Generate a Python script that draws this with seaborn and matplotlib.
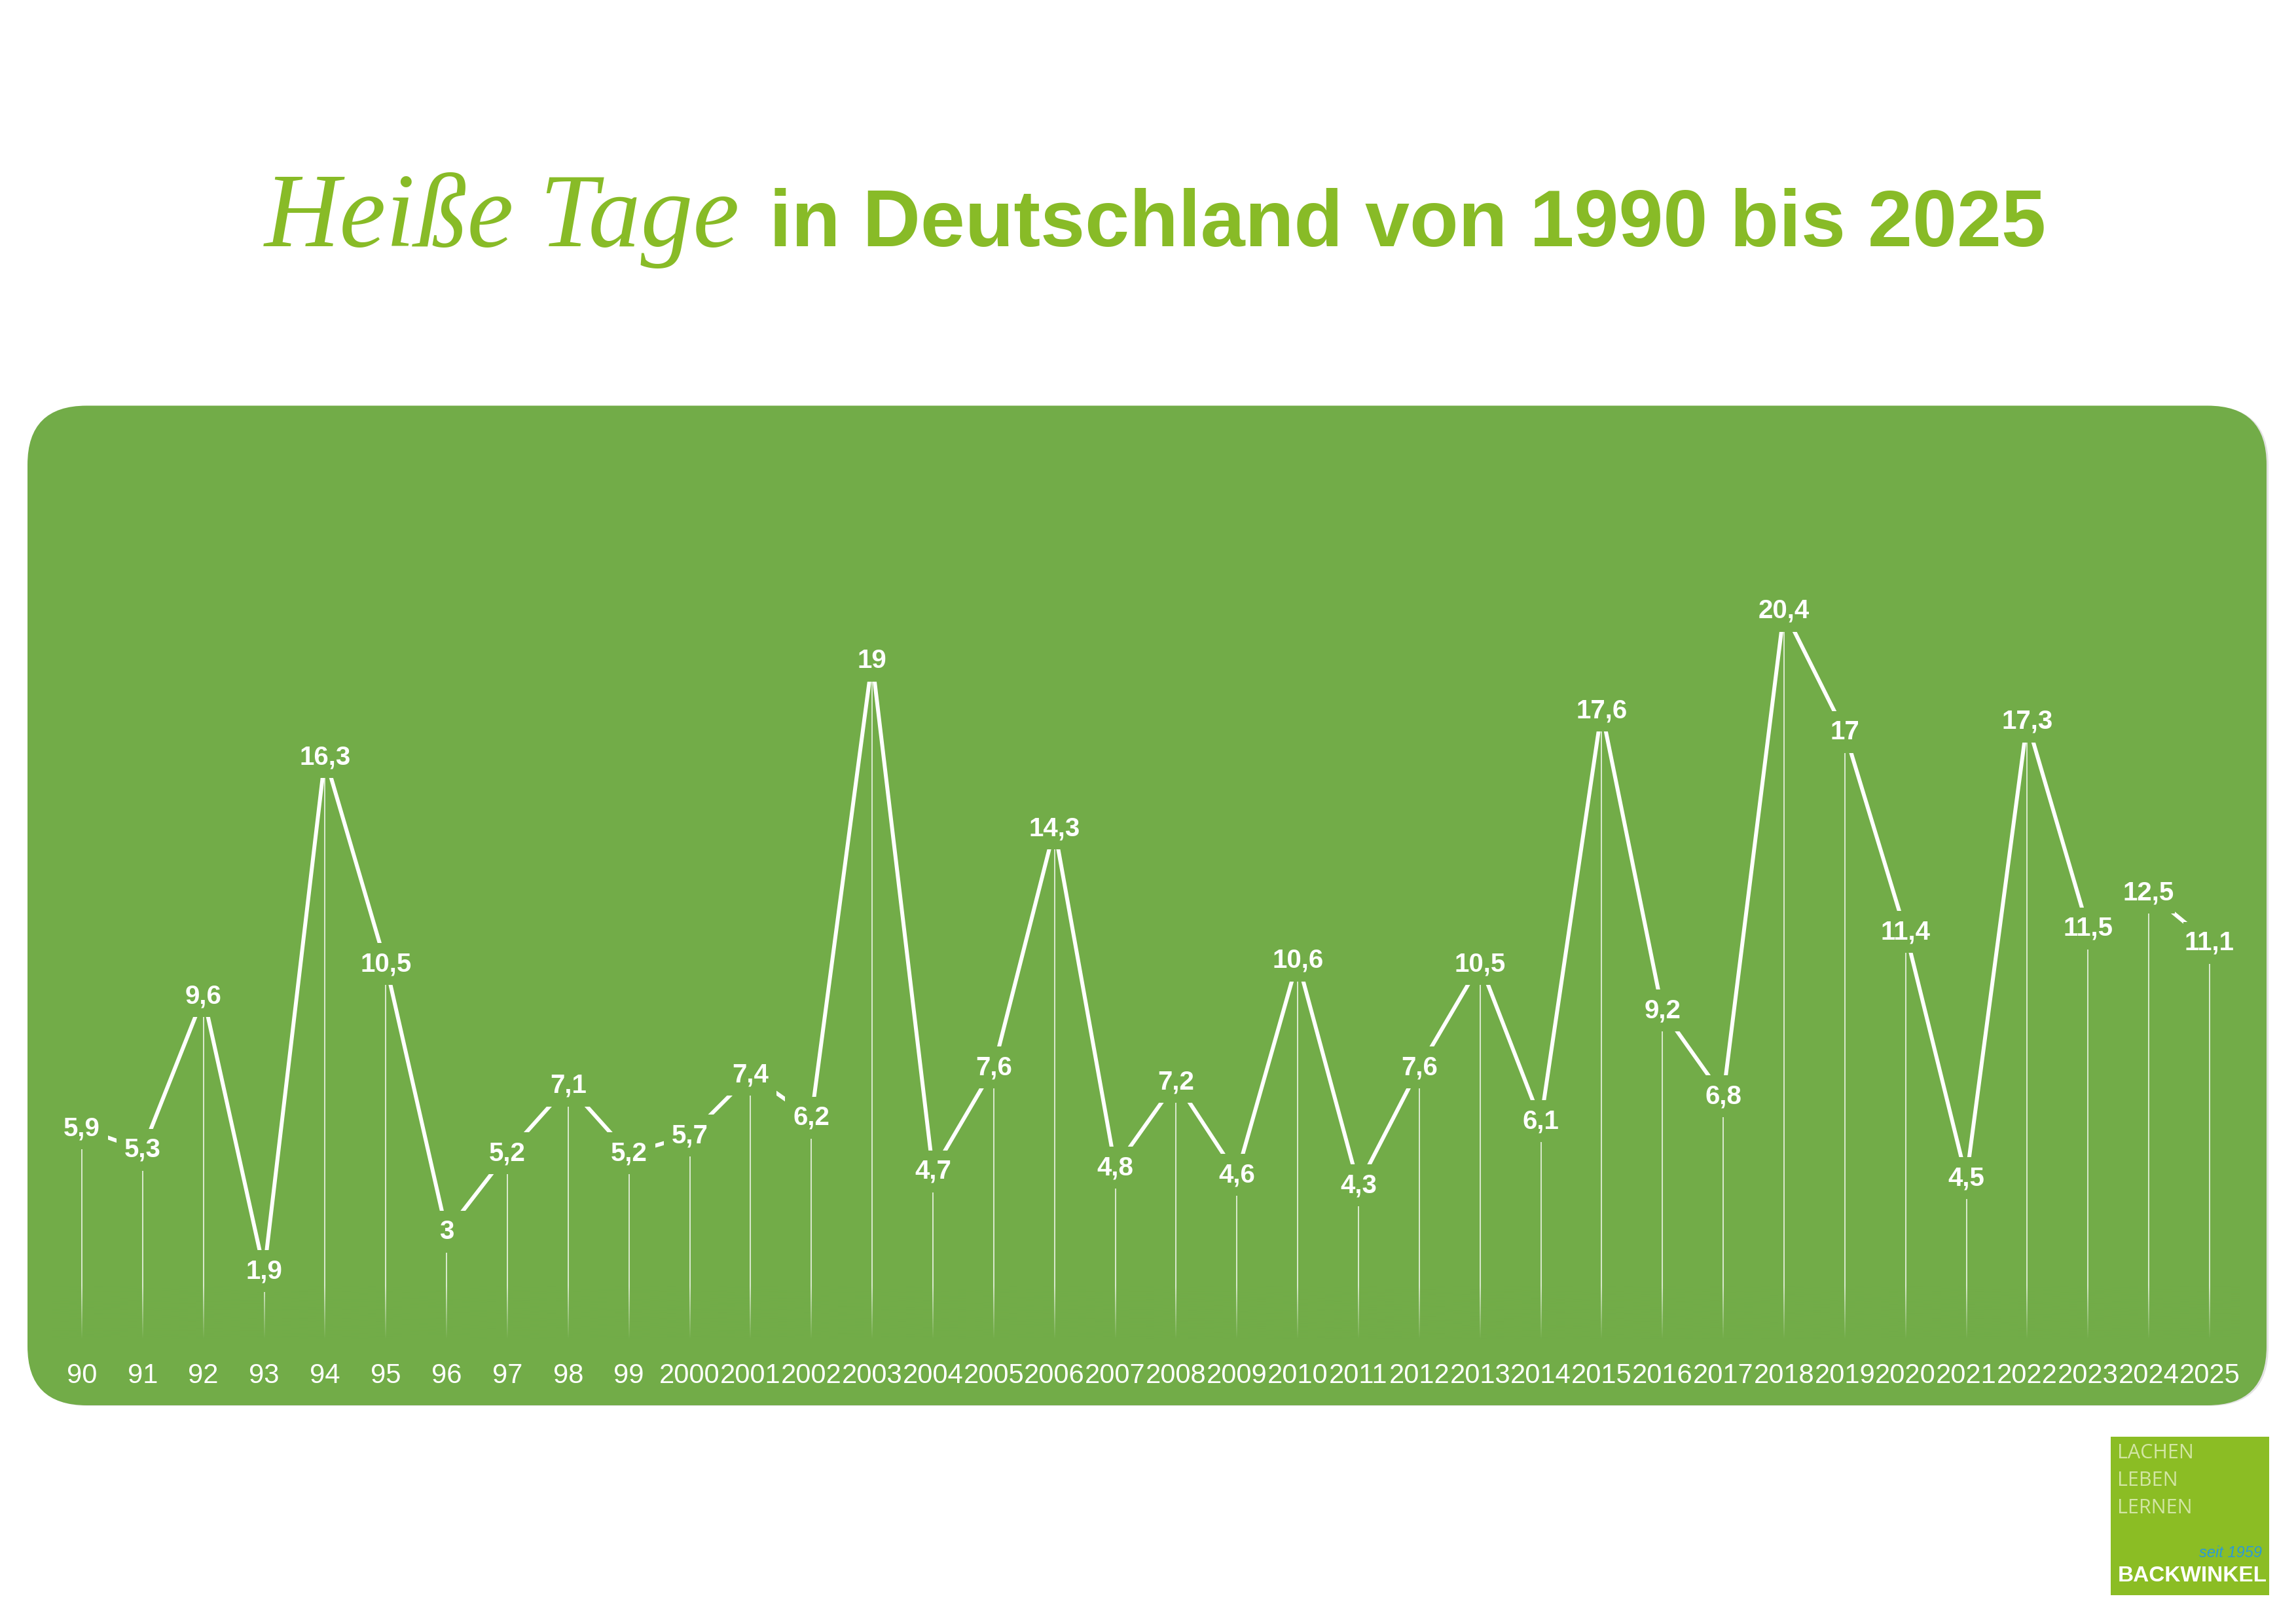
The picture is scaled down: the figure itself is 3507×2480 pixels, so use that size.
import numpy as np
import pandas as pd
import matplotlib
matplotlib.use('Agg')
import matplotlib.pyplot as plt
import matplotlib.path as mpath
from matplotlib.colors import to_rgb
from matplotlib.patches import FancyBboxPatch, Rectangle
import seaborn as sns

# Heiße Tage (Tmax >= 30 °C), Deutschland, Mittel je Jahr
years = list(range(1990, 2026))
hot_days = [5.9, 5.3, 9.6, 1.9, 16.3, 10.5, 3.0, 5.2, 7.1, 5.2,
            5.7, 7.4, 6.2, 19.0, 4.7, 7.6, 14.3, 4.8, 7.2, 4.6,
            10.6, 4.3, 7.6, 10.5, 6.1, 17.6, 9.2, 6.8, 20.4, 17.0,
            11.4, 4.5, 17.3, 11.5, 12.5, 11.1]
year_labels = ['90', '91', '92', '93', '94', '95', '96', '97', '98', '99',
               '2000', '2001', '2002', '2003', '2004', '2005', '2006', '2007',
               '2008', '2009', '2010', '2011', '2012', '2013', '2014', '2015',
               '2016', '2017', '2018', '2019', '2020', '2021', '2022', '2023',
               '2024', '2025']
# die Linie ist zwischen 2023 und 2024 unterbrochen
line_part = [1] * 34 + [2] * 2

BOX = '#72AC48'
TITLE_GREEN = '#88BB27'
LOGO_GREEN = '#8BBD24'

df = pd.DataFrame({'year': years, 'hot_days': hot_days, 'part': line_part})

sns.set_theme(style='white')
plt.rcParams['font.family'] = ['Liberation Sans', 'DejaVu Sans']

fig = plt.figure(figsize=(35.07, 24.80), dpi=100)
fig.patch.set_facecolor('white')

# gruene Flaeche mit runden Ecken (in Zoll, damit der Radius rund bleibt)
fig.patches.append(FancyBboxPatch((0.45, 3.33), 34.20, 15.265,
                                  boxstyle='round,pad=0,rounding_size=0.9',
                                  transform=fig.dpi_scale_trans,
                                  fc='#e2e2e2', ec='none', zorder=-2))
fig.patches.append(FancyBboxPatch((0.42, 3.34), 34.20, 15.265,
                                  boxstyle='round,pad=0,rounding_size=0.9',
                                  transform=fig.dpi_scale_trans,
                                  fc=BOX, ec='none', zorder=-1))

ax = fig.add_axes([0.02241, 0.17547, 0.95318, 0.55402])
ax.set_facecolor('none')

# senkrechte Linien
ax.vlines(years, 0, hot_days, colors='white', lw=1.3, alpha=0.8, zorder=2)

# Ausblenden nach unten
fade = np.zeros((64, 1, 4))
fade[..., :3] = to_rgb(BOX)
fade[..., 3] = np.linspace(1, 0, 64)[:, None]
ax.imshow(fade, extent=(1989.5, 2025.5, 0, 1.5), origin='lower',
          aspect='auto', zorder=3)

sns.lineplot(data=df, x='year', y='hot_days', units='part', estimator=None,
             color='white', lw=4.3, ax=ax, zorder=4, legend=False)

# Aussparung um jede Zahl
rect = mpath.Path([(-1, -0.8), (1, -0.8), (1, 0.8), (-1, 0.8), (-1, -0.8)],
                  [1, 2, 2, 2, 79])
sns.scatterplot(data=df, x='year', y='hot_days', marker=rect, s=3318,
                color=BOX, edgecolor='none', linewidth=0, ax=ax, zorder=5,
                legend=False)

for x, v in zip(years, hot_days):
    ax.text(x, v, f'{v:g}'.replace('.', ','), ha='center', va='center',
            color='white', fontsize=29, fontweight='bold', zorder=6)

ax.set_xlim(1989.5, 2025.5)
ax.set_ylim(0, 25.2)
ax.set_xticks(years)
ax.set_xticklabels(year_labels, color='white', fontsize=30)
ax.tick_params(axis='x', length=0, pad=26)
ax.set_yticks([])
ax.set_xlabel('')
ax.set_ylabel('')
sns.despine(ax=ax, left=True, bottom=True)

# Titel
fig.text(0.3222, 0.8484, 'Heiße Tage', ha='right', va='baseline',
         fontsize=115, family=['Liberation Serif', 'DejaVu Serif'],
         style='italic', color=TITLE_GREEN)
fig.text(0.3350, 0.8484, 'in Deutschland von 1990 bis 2025', ha='left',
         va='baseline', fontsize=88, fontweight='bold', color=TITLE_GREEN)

# Logo
fig.patches.append(Rectangle((0.9193, 0.01774), 0.0690, 0.09758,
                             transform=fig.transFigure, fc=LOGO_GREEN,
                             ec='none', zorder=-1))
for txt, yy in zip(['LACHEN', 'LEBEN', 'LERNEN'], [0.10524, 0.08831, 0.07137]):
    fig.text(0.92216, yy, txt, ha='left', va='center', fontsize=22,
             family=['Open Sans', 'DejaVu Sans'], color='#D3E6A4')
fig.text(0.9852, 0.04355, 'seit 1959', ha='right', va='center', fontsize=17,
         style='italic', color='#2A9AD8')
fig.text(0.92244, 0.02944, 'BACKWINKEL', ha='left', va='center', fontsize=24,
         fontweight='bold', color='white')

fig.savefig('out.png', dpi=100, facecolor='white')
